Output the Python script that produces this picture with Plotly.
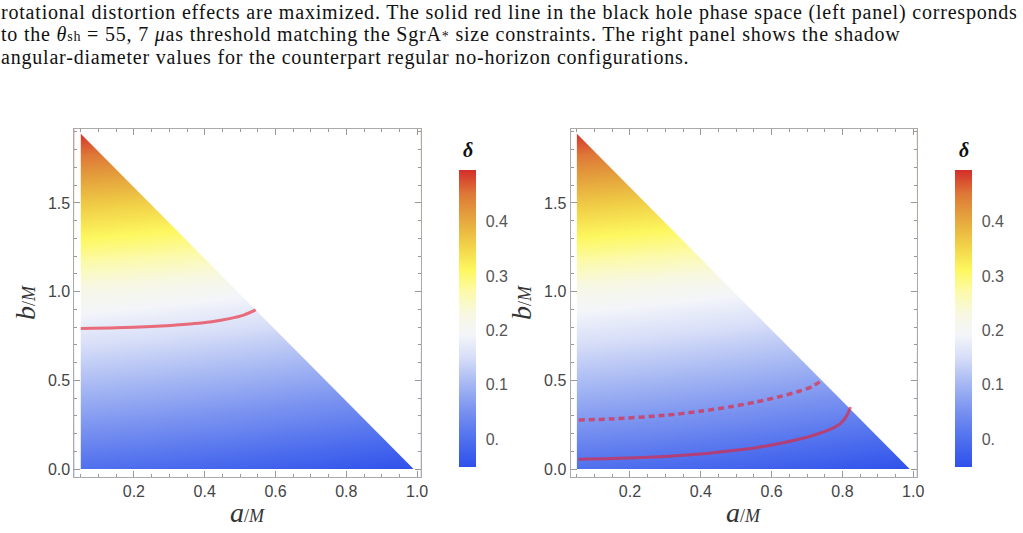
import plotly.graph_objects as go

W, H = 1023, 533

# ---------------- data ----------------
a_grid = [0.0, 0.25, 0.5, 0.75, 1.0]
b_grid = [0.0, 0.25, 0.5, 0.75, 1.0, 1.25, 1.5, 1.75, 2.0]

# delta values (rows follow b_grid, columns follow a_grid)
delta_bh = [
    [0.002, -0.008, -0.020, -0.034, -0.050],
    [0.060, 0.050, 0.038, 0.024, 0.009],
    [0.112, 0.102, 0.090, 0.076, 0.061],
    [0.164, 0.154, 0.142, 0.128, 0.113],
    [0.220, 0.209, 0.197, 0.183, 0.168],
    [0.297, 0.285, 0.272, 0.258, 0.243],
    [0.368, 0.356, 0.343, 0.329, 0.314],
    [0.446, 0.434, 0.421, 0.407, 0.392],
    [0.525, 0.513, 0.500, 0.486, 0.471],
]
delta_reg = [
    [0.002, -0.008, -0.020, -0.034, -0.050],
    [0.058, 0.048, 0.036, 0.022, 0.008],
    [0.110, 0.100, 0.088, 0.074, 0.060],
    [0.162, 0.152, 0.140, 0.126, 0.112],
    [0.218, 0.207, 0.195, 0.181, 0.167],
    [0.296, 0.284, 0.271, 0.257, 0.242],
    [0.368, 0.356, 0.343, 0.329, 0.314],
    [0.446, 0.434, 0.421, 0.407, 0.392],
    [0.525, 0.513, 0.500, 0.486, 0.471],
]

# allowed parameter region (triangle)
region_a = [0.05, 0.05, 0.99]
region_b = [0.0, 1.89, 0.0]

# theta_sh threshold curves
bh_line_a = [0.05, 0.15, 0.25, 0.35, 0.42, 0.47, 0.51, 0.544]
bh_line_b = [0.793, 0.796, 0.804, 0.817, 0.831, 0.848, 0.868, 0.897]

reg_dash_a = [0.055, 0.15, 0.298, 0.40, 0.485, 0.56, 0.626, 0.68, 0.715, 0.742]
reg_dash_b = [0.277, 0.283, 0.303, 0.326, 0.352, 0.380, 0.410, 0.440, 0.466, 0.500]

reg_solid_a = [0.055, 0.15, 0.298, 0.40, 0.485, 0.56, 0.626, 0.70, 0.74, 0.77, 0.795, 0.812, 0.823]
reg_solid_b = [0.056, 0.060, 0.071, 0.085, 0.103, 0.122, 0.146, 0.180, 0.205, 0.228, 0.258, 0.300, 0.350]

# colour map (TemperatureMap-like)
cmap_vals = [-0.052, 0.0, 0.05, 0.1, 0.15, 0.19, 0.23, 0.27, 0.31, 0.36, 0.41, 0.45, 0.494]
cmap_cols = ["rgb(46,80,235)", "rgb(80,112,238)", "rgb(120,145,240)", "rgb(165,183,243)",
             "rgb(215,222,248)", "rgb(243,245,250)", "rgb(248,248,225)", "rgb(252,250,170)",
             "rgb(253,248,95)", "rgb(240,205,70)", "rgb(228,160,60)", "rgb(222,120,55)",
             "rgb(212,45,42)"]
cb_tickvals = [0.0, 0.1, 0.2, 0.3, 0.4]
cb_ticktext = ["0.", "0.1", "0.2", "0.3", "0.4"]

x_tickvals = [0.2, 0.4, 0.6, 0.8, 1.0]
x_ticktext = ["0.2", "0.4", "0.6", "0.8", "1.0"]
y_tickvals = [0.0, 0.5, 1.0, 1.5]
y_ticktext = ["0.0", "0.5", "1.0", "1.5"]

caption = [
    "rotational distortion effects are maximized. The solid red line in the black hole phase space (left panel) corresponds",
    "to the <i>θ</i><span style='font-size:14px'>sh</span> = 55, 7 <i>μ</i>as threshold matching the SgrA<span style='font-size:14px'>*</span> size constraints. The right panel shows the shadow",
    "angular-diameter values for the counterpart regular no-horizon configurations.",
]

# ---------------- layout geometry ----------------
xr = [0.032, 1.01]
yr = [-0.045, 1.918]
cmin, cmax = cmap_vals[0], cmap_vals[-1]
colorscale = [[(v - cmin) / (cmax - cmin), c] for v, c in zip(cmap_vals, cmap_cols)]

panels = [
    dict(x0=75, x1=424, cbx=463, z=delta_bh, xa="x", ya="y"),
    dict(x0=575, x1=924, cbx=963, z=delta_reg, xa="x2", ya="y2"),
]
py0, py1 = 129, 478

fig = go.Figure()
line_col = "rgba(235,30,45,0.62)"

for i, p in enumerate(panels):
    fig.add_trace(go.Heatmap(
        x=a_grid, y=b_grid, z=p["z"], zsmooth="best",
        colorscale=colorscale, zmin=cmin, zmax=cmax,
        xaxis=p["xa"], yaxis=p["ya"], hoverinfo="skip",
        colorbar=dict(
            x=p["cbx"] / W, xanchor="left", xpad=0, ypad=0,
            y=1 - ((171 + 468) / 2) / H, yanchor="middle",
            len=297, lenmode="pixels", thickness=17, outlinewidth=0,
            tickvals=cb_tickvals, ticktext=cb_ticktext,
            ticks="outside", ticklen=7, tickcolor="rgba(0,0,0,0)",
            tickfont=dict(family="Liberation Sans", size=16, color="#555"),
        ),
    ))
    # white mask outside the allowed triangle
    mx = [xr[0], xr[1], xr[1], xr[0], xr[0], region_a[0], region_a[1], region_a[2], region_a[0], xr[0]]
    my = [yr[0], yr[0], yr[1], yr[1], yr[0], region_b[0], region_b[1], region_b[2], region_b[0], yr[0]]
    fig.add_trace(go.Scatter(x=mx, y=my, mode="lines", fill="toself", fillcolor="white",
                             line=dict(width=0, color="white"), hoverinfo="skip",
                             xaxis=p["xa"], yaxis=p["ya"], showlegend=False))

fig.add_trace(go.Scatter(x=bh_line_a, y=bh_line_b, mode="lines",
                         line=dict(color=line_col, width=3, shape="spline", smoothing=0.8),
                         xaxis="x", yaxis="y", showlegend=False, hoverinfo="skip"))
fig.add_trace(go.Scatter(x=reg_dash_a, y=reg_dash_b, mode="lines",
                         line=dict(color=line_col, width=3.5, dash="6px,4px", shape="spline", smoothing=0.8),
                         xaxis="x2", yaxis="y2", showlegend=False, hoverinfo="skip"))
fig.add_trace(go.Scatter(x=reg_solid_a, y=reg_solid_b, mode="lines",
                         line=dict(color=line_col, width=3, shape="spline", smoothing=0.8),
                         xaxis="x2", yaxis="y2", showlegend=False, hoverinfo="skip"))

tickfont = dict(family="Liberation Sans", size=16, color="#444")
title_font = dict(family="Liberation Serif", size=28, color="#333")
xtitle_text = "<i>a</i><span style='font-size:18px'>/<i>M</i></span>"
ytitle_text = "<i>b</i><span style='font-size:18px'>/<i>M</i></span>"

def xaxis(p):
    return dict(domain=[p["x0"] / W, p["x1"] / W], range=xr, anchor=p["ya"],
                tickvals=x_tickvals, ticktext=x_ticktext, ticks="inside", ticklen=6,
                tickcolor="#999", showline=True, linecolor="#aaa", linewidth=1, mirror="ticks",
                showgrid=False, zeroline=False, tickfont=tickfont,
                minor=dict(dtick=0.05, tick0=0, ticks="inside", ticklen=3, tickcolor="#999", showgrid=False))

def yaxis(p):
    return dict(domain=[1 - py1 / H, 1 - py0 / H], range=yr, anchor=p["xa"],
                tickvals=y_tickvals, ticktext=y_ticktext, ticks="inside", ticklen=6,
                tickcolor="#999", showline=True, linecolor="#aaa", linewidth=1, mirror="ticks",
                showgrid=False, zeroline=False, tickfont=tickfont,
                minor=dict(dtick=0.1, tick0=0, ticks="inside", ticklen=3, tickcolor="#999", showgrid=False),
                title=dict(text=ytitle_text, font=title_font, standoff=4))

# caption as a single multi-line text; base size sets the 22.5px line pitch
caption_text = "<br>".join("<span style='font-size:20px;letter-spacing:0.8px'>" + s + "</span>" for s in caption)
annotations = [dict(text=caption_text, x=0, y=1, xref="paper", yref="paper",
                    xanchor="left", yanchor="top", align="left", showarrow=False, borderpad=0,
                    font=dict(family="Liberation Serif", size=17.3, color="#111"))]
for p in panels:
    annotations.append(dict(text="<b><i>δ</i></b>", x=(p["cbx"] + 8.5) / W, y=1 - 150 / H,
                            xref="paper", yref="paper", xanchor="center", yanchor="middle",
                            showarrow=False, font=dict(family="Liberation Serif", size=20, color="#111")))
    annotations.append(dict(text=xtitle_text, x=(p["x0"] + p["x1"]) / 2 / W, y=1 - 513 / H,
                            xref="paper", yref="paper", xanchor="center", yanchor="middle",
                            showarrow=False, font=title_font))

fig.update_layout(
    width=W, height=H, margin=dict(l=0, r=0, t=0, b=0),
    paper_bgcolor="white", plot_bgcolor="white", showlegend=False,
    xaxis=xaxis(panels[0]), yaxis=yaxis(panels[0]),
    xaxis2=xaxis(panels[1]), yaxis2=yaxis(panels[1]),
    annotations=annotations,
)

fig.write_html("out.html")
